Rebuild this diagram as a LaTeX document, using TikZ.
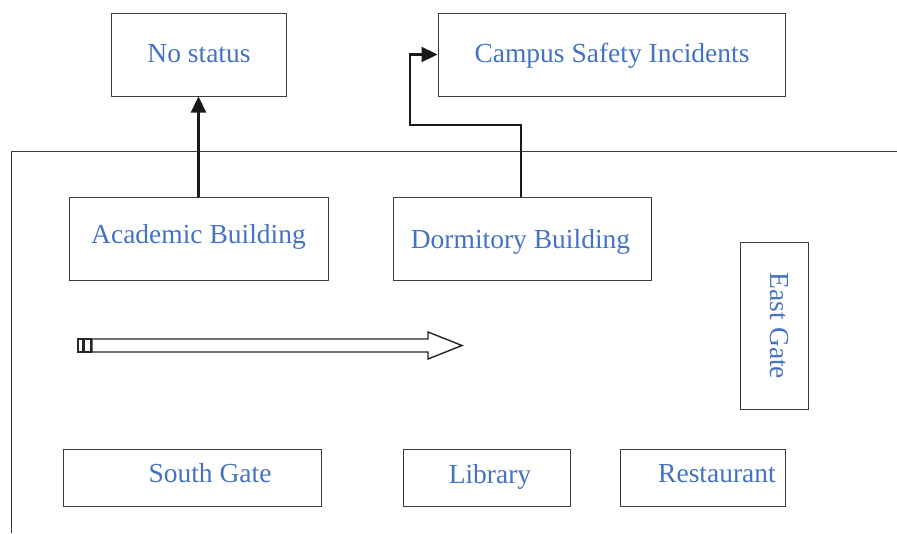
\documentclass[tikz,border=0pt]{standalone}
\usepackage{fontspec}
\setmainfont{Liberation Serif}
\usetikzlibrary{arrows.meta}
\definecolor{labelblue}{RGB}{68,114,196}
\definecolor{frameline}{RGB}{60,60,60}
\tikzset{
  box/.style={draw=frameline, line width=1.0pt, rectangle, inner sep=0pt},
  boxlabel/.style={text=labelblue, font=\fontsize{27.5}{32}\selectfont,
    inner sep=0pt, anchor=base},
  conn/.style={draw=black!90, line width=2.2pt,
    -{Triangle[length=16pt,width=15pt]}},
  border/.style={draw=frameline, line width=1.0pt},
  blockarrow/.style={draw=black!85, line width=1.4pt, fill=white}
}
\begin{document}
\begin{tikzpicture}[x=1pt,y=-1pt]
\useasboundingbox (0,0) rectangle (897,533);

% outer frame (top and left sides only)
\draw[border] (897,151) -- (11,151) -- (11,533);

% top boxes
\node[box, minimum width=175, minimum height=83] (nostatus) at (198.5,54.5) {};
\node[boxlabel] (nostatuslbl) at (199,62) {No status};
\node[box, minimum width=347, minimum height=83] (campus) at (611.5,54.5) {};
\node[boxlabel] (campuslbl) at (612,62) {Campus Safety Incidents};

% buildings
\node[box, minimum width=259, minimum height=83] (academic) at (198.5,238.5) {};
\node[boxlabel] (academiclbl) at (198.5,243) {Academic Building};
\node[box, minimum width=258, minimum height=83] (dorm) at (522,238.5) {};
\node[boxlabel] (dormlbl) at (520.5,248) {Dormitory Building};

% east gate (vertical text)
\node[box, minimum width=68, minimum height=167] (east) at (774,325.5) {};
\node[boxlabel, anchor=center, rotate=-90] (eastlbl) at (779,326) {East Gate};

% bottom row
\node[box, minimum width=258, minimum height=57] (south) at (192,477.5) {};
\node[boxlabel] (southlbl) at (210,482.5) {South Gate};
\node[box, minimum width=167, minimum height=57] (library) at (486.5,477.5) {};
\node[boxlabel] (librarylbl) at (490,483.5) {Library};
\node[box, minimum width=165, minimum height=57] (restaurant) at (702.5,477.5) {};
\node[boxlabel] (restaurantlbl) at (717,482.5) {Restaurant};

% connectors
\draw[conn] (academic.north) -- (nostatus.south);
\coordinate (dormup) at (521,125);
\coordinate (leftturn) at (410,125);
\draw[conn] (dormup |- dorm.north) -- (dormup) -- (leftturn) |- (campus.west);

% striped block arrow
\draw[blockarrow] (78,339) rectangle (83,352);
\draw[blockarrow] (84,339) rectangle (91,352);
\draw[blockarrow] (92,339) -- (428,339) -- (428,332) -- (462,345.5)
  -- (428,359) -- (428,352) -- (92,352) -- cycle;

\end{tikzpicture}
\end{document}
